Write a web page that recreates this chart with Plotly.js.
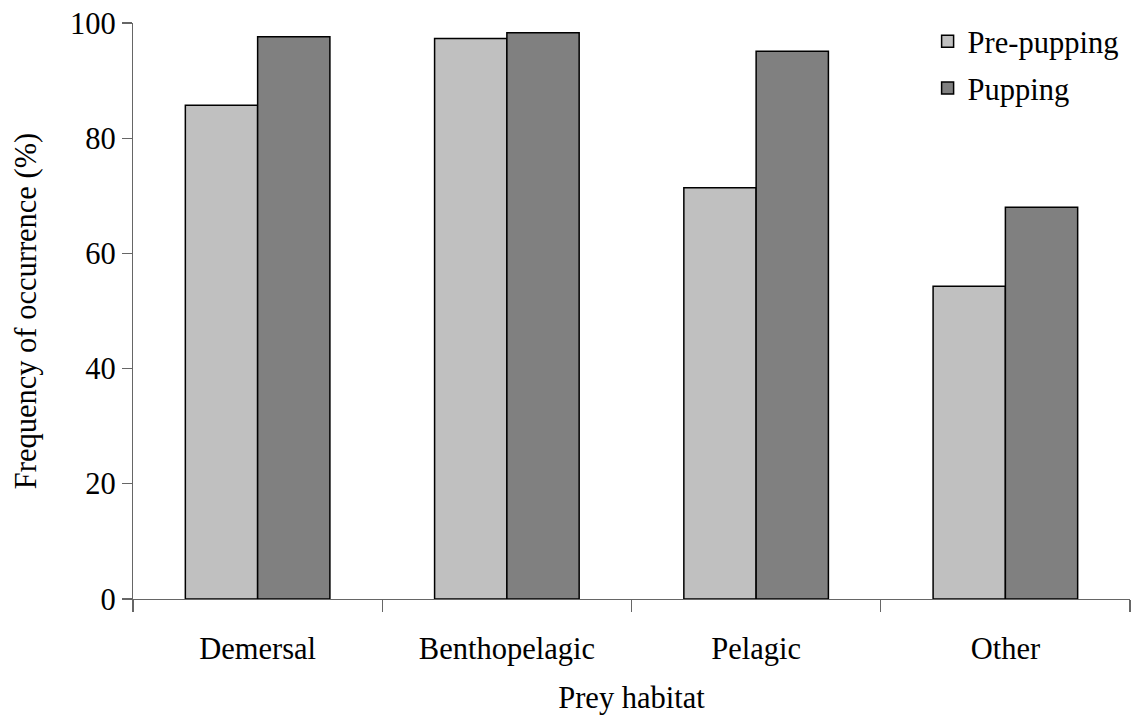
<!DOCTYPE html>
<html>
<head>
<meta charset="utf-8">
<script src="https://cdn.plot.ly/plotly-3.0.1.min.js"></script>
<style>html,body{margin:0;padding:0;background:#fff;}#chart{width:1138px;height:724px;}</style>
</head>
<body>
<div id="chart"></div>
<script>
const categories = ["Demersal", "Benthopelagic", "Pelagic", "Other"];
const prePupping = [85.7, 97.3, 71.4, 54.3];
const pupping = [97.6, 98.3, 95.1, 68.0];
const yTicks = [0, 20, 40, 60, 80, 100];

const font = {family: "Liberation Serif", size: 30.5, color: "#000"};

const traces = [
  {type: "bar", name: "Pre-pupping", x: categories, y: prePupping, legendgroup: "a",
   marker: {color: "#C0C0C0", line: {color: "#000", width: 1.5}}},
  {type: "bar", name: "Pupping", x: categories, y: pupping, legendgroup: "b",
   marker: {color: "#808080", line: {color: "#000", width: 1.5}}}
];

const layout = {
  width: 1138, height: 724,
  margin: {l: 133, r: 8, t: 23, b: 125},
  paper_bgcolor: "#fff", plot_bgcolor: "#fff",
  font: font,
  showlegend: true,
  barmode: "group",
  bargap: 0.42, bargroupgap: 0,
  legend: {x: 0.797, y: 1.014, xanchor: "left", yanchor: "top", font: font,
           traceorder: "grouped", tracegroupgap: 4, bgcolor: "rgba(0,0,0,0)"},
  xaxis: {type: "category", showline: true, linecolor: "#666", linewidth: 1.2,
          ticks: "outside", tickson: "boundaries", ticklen: 12, tickcolor: "#666", tickwidth: 1.2,
          showgrid: false, zeroline: false, tickfont: font, ticklabelstandoff: 22,
          title: {text: "Prey habitat", font: font, standoff: 21}},
  yaxis: {range: [0, 100], tickvals: yTicks, ticktext: yTicks.map(String),
          showline: true, linecolor: "#666", linewidth: 1.2,
          ticks: "outside", ticklen: 10, tickcolor: "#666", tickwidth: 1.2,
          showgrid: false, zeroline: false, tickfont: font,
          title: {text: "Frequency of occurrence (%)", font: font, standoff: 24}}
};

Plotly.newPlot("chart", traces, layout, {displayModeBar: false, staticPlot: true});
</script>
</body>
</html>
